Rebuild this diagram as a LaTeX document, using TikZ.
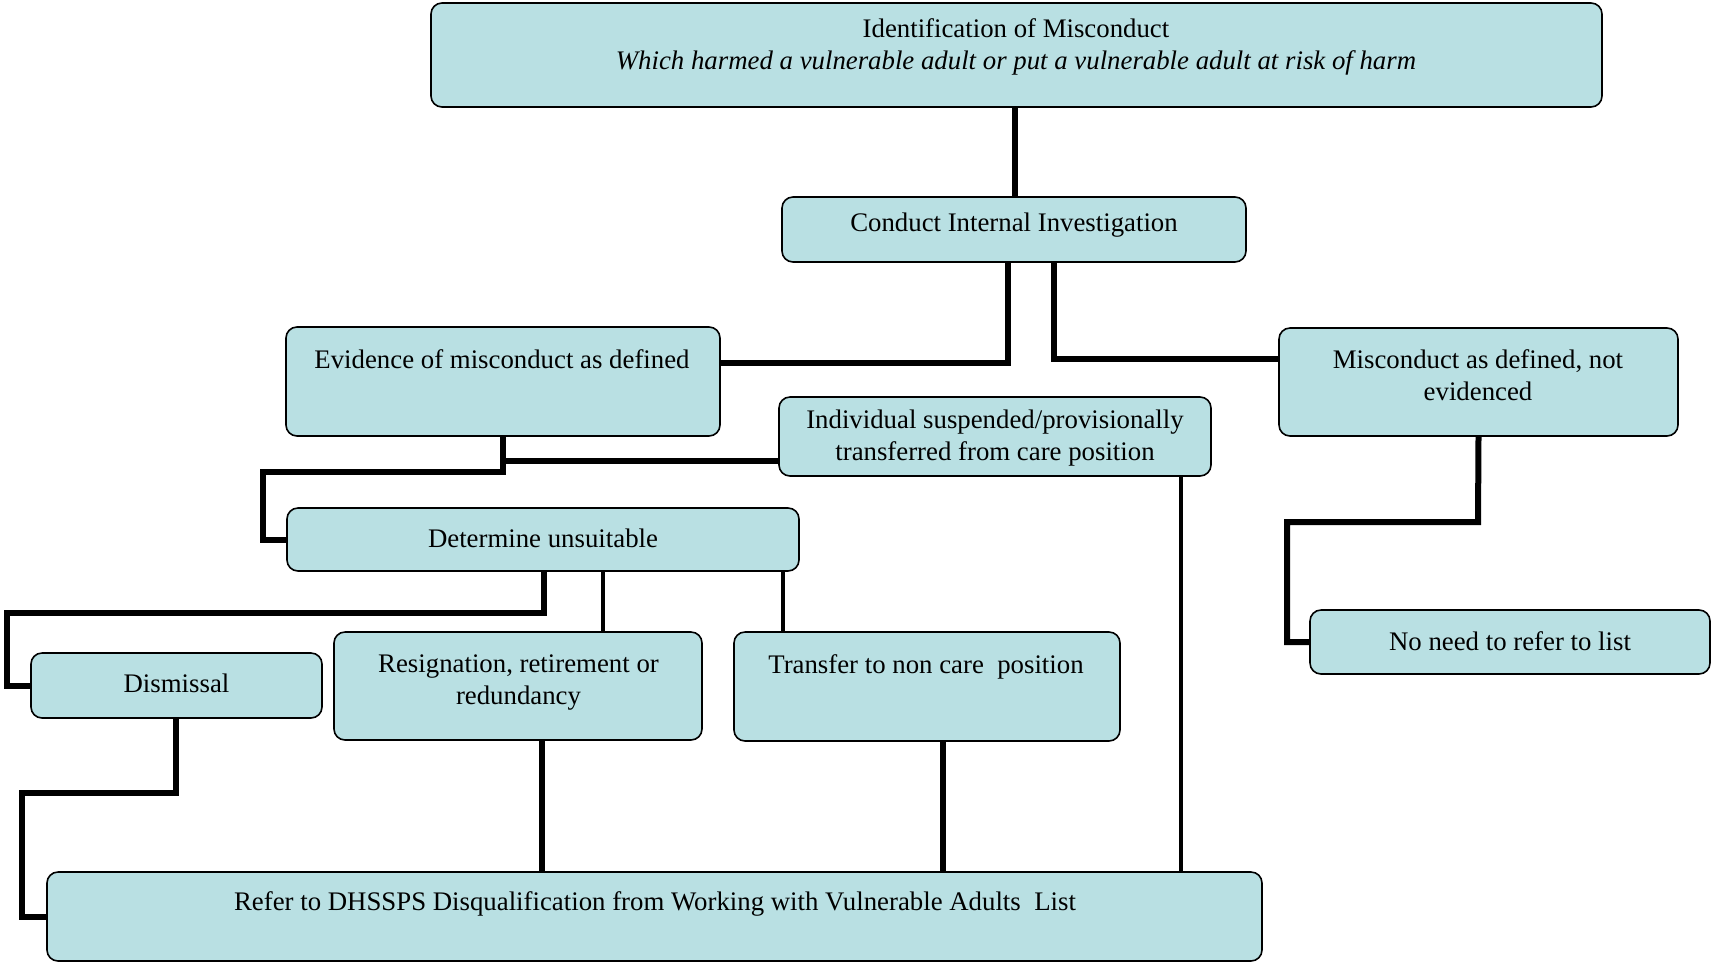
\documentclass[tikz,border=0pt]{standalone}
\usepackage{fontspec}
\setmainfont{Liberation Serif}
\definecolor{boxfill}{HTML}{B9E0E3}
\begin{document}
\begin{tikzpicture}[x=0.5pt,y=-0.5pt,
  box/.style={draw=black, line width=0.8pt, fill=boxfill, rounded corners=5.5pt, inner sep=0pt},
  txt/.style={font=\fontsize{13.4}{16}\selectfont, align=center, inner sep=0pt},
  link/.style={line width=3pt, line join=miter},
  thinlink/.style={line width=2.3pt, line join=miter}]
\useasboundingbox (0,0) rectangle (1712,965);
% boxes
\node[box, minimum width=585.5pt, minimum height=52pt] (ident) at (1016.5,55) {};
\node[box, minimum width=232pt, minimum height=32.5pt] (conduct) at (1014,229.5) {};
\node[box, minimum width=217pt, minimum height=54.5pt] (evidence) at (503,381.5) {};
\node[box, minimum width=216pt, minimum height=39.5pt] (individual) at (995,436.5) {};
\node[box, minimum width=199.5pt, minimum height=54pt] (misconduct) at (1478.5,382) {};
\node[box, minimum width=256pt, minimum height=31.5pt] (determine) at (543,539.5) {};
\node[box, minimum width=145.5pt, minimum height=32.5pt] (dismissal) at (176.5,685.5) {};
\node[box, minimum width=184pt, minimum height=54pt] (resignation) at (518,686) {};
\node[box, minimum width=193pt, minimum height=54.5pt] (transfer) at (927,686.5) {};
\node[box, minimum width=200pt, minimum height=32pt] (noneed) at (1510,642) {};
\node[box, minimum width=607.5pt, minimum height=44.5pt] (refer) at (654.5,916.5) {};
% texts
\node[txt] (identT) at (1016,47) {Identification of Misconduct\\\textit{Which harmed a vulnerable adult or put a vulnerable adult at risk of harm}};
\node[txt] (conductT) at (1014,225) {Conduct Internal Investigation};
\node[txt] (evidenceT) at (502,359) {Evidence of misconduct as defined};
\node[txt] (individualT) at (995,438) {Individual suspended/provisionally\\transferred from care position};
\node[txt] (misconductT) at (1478,375) {Misconduct as defined, not\\evidenced};
\node[txt] (determineT) at (543,538) {Determine unsuitable};
\node[txt] (dismissalT) at (176.5,683.5) {Dismissal};
\node[txt] (resignationT) at (518.5,682.5) {Resignation, retirement or\\redundancy};
\node[txt] (transferT) at (926,667) {Transfer to non care~ position};
\node[txt] (noneedT) at (1510,641) {No need to refer to list};
\node[txt] (referT) at (655,904) {Refer to DHSSPS Disqualification from Working with Vulnerable Adults~ List};
% bend coordinates
\coordinate (c1) at (1008,363);
\coordinate (c2) at (1054,359);
\coordinate (c3) at (263,472);
\coordinate (c3b) at (503,472);
\coordinate (c4) at (503,461);
\coordinate (c5) at (1181,0);
\coordinate (c6) at (1478,522);
\coordinate (c6b) at (1287,522);
\coordinate (c7) at (544,613);
\coordinate (c7b) at (7,613);
\coordinate (c8) at (603,0);
\coordinate (c9) at (783,0);
\coordinate (c10) at (176,793);
\coordinate (c10b) at (22,793);
\coordinate (c11) at (542,0);
\coordinate (c12) at (943,0);
\coordinate (c0) at (1015,0);
% connectors
\draw[link] (c0 |- ident.south) -- (c0 |- conduct.north);
\draw[link] (conduct.south -| c1) -- (c1) -- (c1 -| evidence.east);
\draw[link] (conduct.south -| c2) -- (c2) -- (c2 -| misconduct.west);
\draw[link] (evidence.south) -- (c3b) -- (c3) |- (determine.west);
\draw[link] (c4 -| individual.west) -- (c4);
\draw[thinlink] (c5 |- individual.south) -- (c5 |- refer.north);
\draw[link] (misconduct.south) -- (c6) -- (c6b) |- (noneed.west);
\draw[link] (determine.south -| c7) -- (c7) -- (c7b) |- (dismissal.west);
\draw[thinlink] (c8 |- determine.south) -- (c8 |- resignation.north);
\draw[thinlink] (c9 |- determine.south) -- (c9 |- transfer.north);
\draw[link] (dismissal.south -| c10) -- (c10) -- (c10b) |- (refer.west);
\draw[link] (c11 |- resignation.south) -- (c11 |- refer.north);
\draw[link] (c12 |- transfer.south) -- (c12 |- refer.north);
\end{tikzpicture}
\end{document}
